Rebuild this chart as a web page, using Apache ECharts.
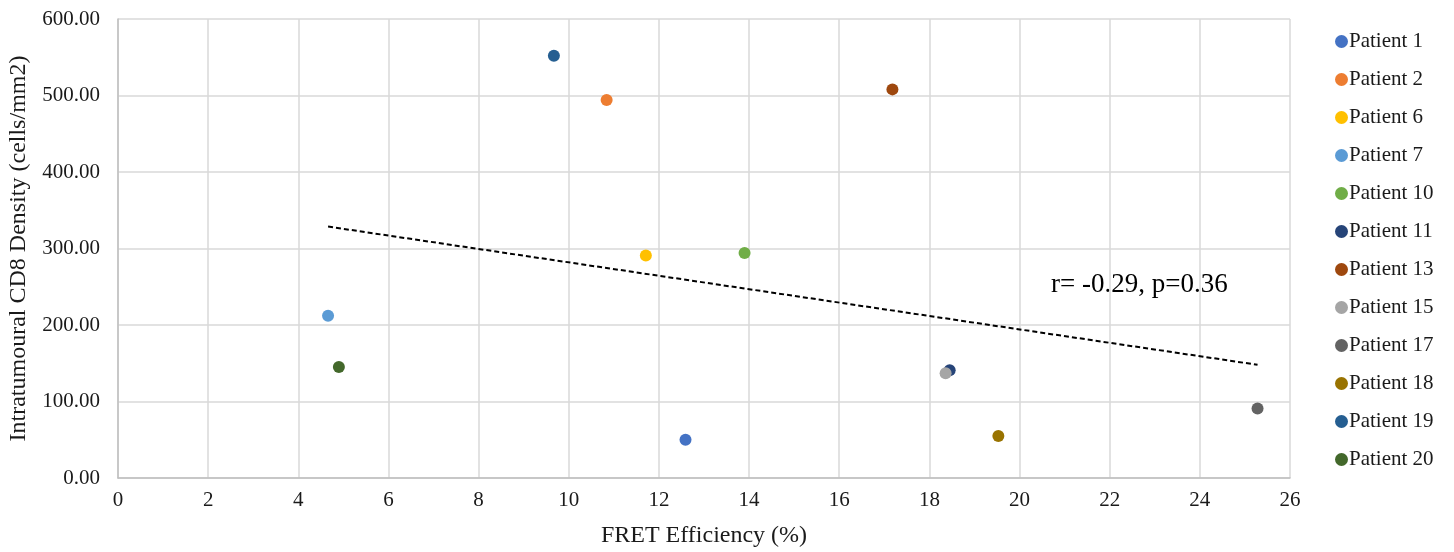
<!DOCTYPE html>
<html>
<head>
<meta charset="utf-8">
<script src="https://cdn.jsdelivr.net/npm/echarts@6/dist/echarts.min.js"></script>
<style>
  html, body { margin: 0; padding: 0; background: #fff; }
  #chart { width: 1454px; height: 552px; }
</style>
</head>
<body>
<div id="chart"></div>
<script>
// Patients, their FRET efficiency (%) and intratumoural CD8 density (cells/mm2)
const patients = ['Patient 1', 'Patient 2', 'Patient 6', 'Patient 7', 'Patient 10', 'Patient 11',
                  'Patient 13', 'Patient 15', 'Patient 17', 'Patient 18', 'Patient 19', 'Patient 20'];
const fretEfficiency = [12.59, 10.84, 11.71, 4.66, 13.90, 18.45, 17.18, 18.36, 25.28, 19.53, 9.67, 4.90];
const cd8Density = [50, 494, 291, 212, 294, 141, 508, 137, 91, 55, 552, 145];
const colors = ['#4472C4', '#ED7D31', '#FFC000', '#5B9BD5', '#70AD47', '#264478',
                '#9E480E', '#A5A5A5', '#636363', '#997300', '#255E91', '#43682B'];
const statText = 'r= -0.29, p=0.36';

// Least-squares linear trend over all patients
const n = fretEfficiency.length;
const mx = fretEfficiency.reduce((a, b) => a + b, 0) / n;
const my = cd8Density.reduce((a, b) => a + b, 0) / n;
let sxy = 0, sxx = 0;
for (let i = 0; i < n; i++) {
  sxy += (fretEfficiency[i] - mx) * (cd8Density[i] - my);
  sxx += (fretEfficiency[i] - mx) ** 2;
}
const slope = sxy / sxx;
const intercept = my - slope * mx;
const xMin = Math.min(...fretEfficiency);
const xMax = Math.max(...fretEfficiency);
const trend = [[xMin, intercept + slope * xMin], [xMax, intercept + slope * xMax]];

const font = '"Liberation Serif", "Times New Roman", serif';
const textColor = '#1a1a1a';

const series = patients.map((name, i) => ({
  name: name,
  type: 'scatter',
  symbol: 'circle',
  symbolSize: 12,
  itemStyle: { color: colors[i], opacity: 1 },
  data: [[fretEfficiency[i], cd8Density[i]]],
  z: 3
}));

series.push({
  name: 'Trend',
  type: 'line',
  data: trend,
  symbol: 'none',
  silent: true,
  lineStyle: { color: '#000', width: 2, type: [5, 3] },
  z: 2
});

const chart = echarts.init(document.getElementById('chart'));
chart.setOption({
  animation: false,
  backgroundColor: '#fff',
  grid: { left: 118, right: 164, top: 19, bottom: 74, containLabel: false, outerBoundsMode: 'none' },
  xAxis: {
    type: 'value',
    min: 0, max: 26, interval: 2,
    name: 'FRET Efficiency (%)',
    nameLocation: 'middle',
    nameGap: 46,
    nameTextStyle: { fontFamily: font, fontSize: 24, color: textColor },
    axisLine: { show: true, lineStyle: { color: '#BFBFBF', width: 1.5 } },
    axisTick: { show: false },
    axisLabel: { fontFamily: font, fontSize: 21, color: textColor, margin: 12 },
    splitLine: { show: true, lineStyle: { color: '#D9D9D9', width: 1.5 } }
  },
  yAxis: {
    type: 'value',
    min: 0, max: 600, interval: 100,
    name: 'Intratumoural CD8 Density (cells/mm2)',
    nameLocation: 'middle',
    nameGap: 87,
    nameRotate: 90,
    nameTextStyle: { fontFamily: font, fontSize: 24, color: textColor },
    axisLine: { show: true, lineStyle: { color: '#BFBFBF', width: 1.5 } },
    axisTick: { show: false },
    axisLabel: {
      fontFamily: font, fontSize: 21, color: textColor, margin: 18,
      formatter: v => v.toFixed(2)
    },
    splitLine: { show: true, lineStyle: { color: '#D9D9D9', width: 1.5 } }
  },
  legend: {
    orient: 'vertical',
    left: 1330,
    top: 26,
    data: patients,
    icon: 'circle',
    itemWidth: 13,
    itemHeight: 13,
    itemGap: 17,
    textStyle: { fontFamily: font, fontSize: 21, color: textColor, padding: [0, 0, 0, -4] }
  },
  graphic: [{
    type: 'text',
    left: 1051,
    top: 271,
    style: { text: statText, font: '27px ' + font, fill: '#000' }
  }],
  series: series
});
</script>
</body>
</html>
